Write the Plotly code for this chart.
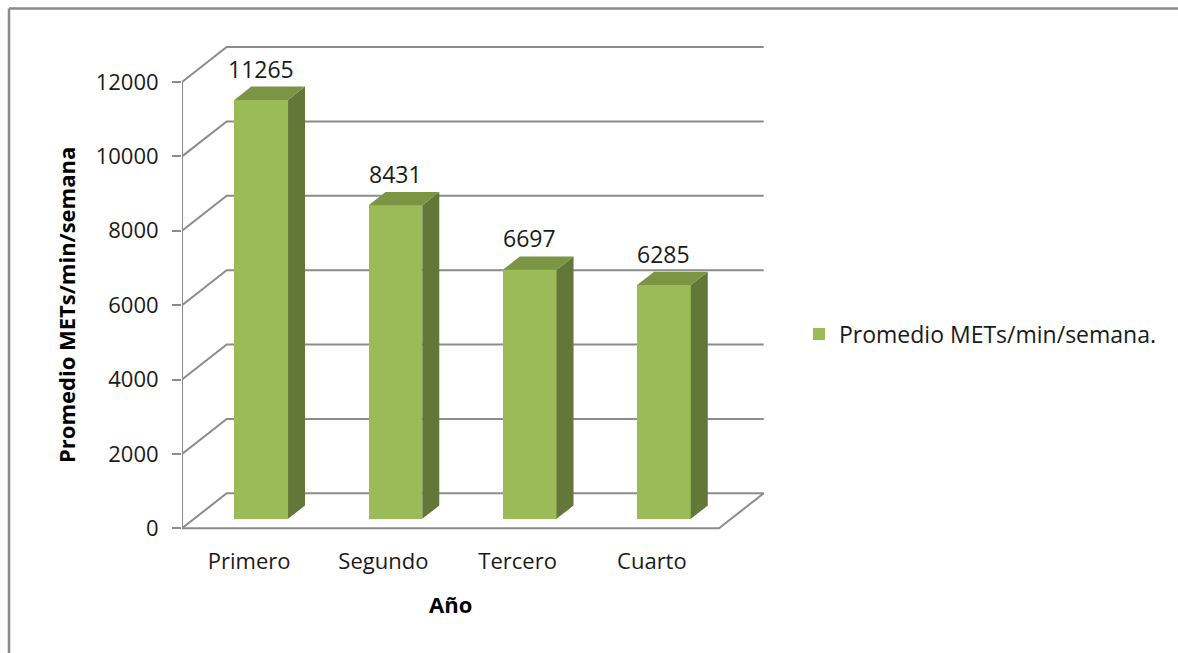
import plotly.graph_objects as go

# ---- data ----
categories = ["Primero", "Segundo", "Tercero", "Cuarto"]
values = [11265, 8431, 6697, 6285]
y_ticks = [0, 2000, 4000, 6000, 8000, 10000, 12000]
series_name = "Promedio METs/min/semana."
y_title = "Promedio METs/min/semana"
x_title = "Año"

# ---- figure geometry (pixels) ----
FIG_W, FIG_H = 1178, 653
L, T = 182, 36
PLOT_W, PLOT_H = 600, 502
CAT_PX = 134.25              # pixels per category on the front plane
ZERO_PX = 528.3              # vertical pixel of value 0 on the front plane
PX_PER_UNIT = 446.3 / 12000  # vertical pixels per value unit

x_range = [0, PLOT_W / CAT_PX]
bottom_px = T + PLOT_H
y_range = [-(bottom_px - ZERO_PX) / PX_PER_UNIT, (ZERO_PX - T) / PX_PER_UNIT]

# oblique depth of the box, in data units
DEPTH_X = 44.7 / CAT_PX
DEPTH_Y = 35.0 / PX_PER_UNIT
F0, F1 = 0.27, 0.65   # front / back depth fraction of the bars
BAR_W = 0.4

GRID = "#8c8c8c"
FRONT = "#9bbb59"
SIDE = "#637838"
TOP = "#7b9544"
FONT = "Open Sans"
TEXT = "#1a1a1a"

n = len(categories)


def px_to_paper_x(p):
    return (p - L) / PLOT_W


def px_to_paper_y(q):
    return (bottom_px - q) / PLOT_H


shapes = []
line_style = dict(color=GRID, width=2)

# back-wall gridlines with their diagonal on the left wall
for v in y_ticks:
    shapes.append(dict(type="path", xref="x", yref="y", layer="below",
                       path=f"M0,{v} L{DEPTH_X},{v + DEPTH_Y} L{n + DEPTH_X},{v + DEPTH_Y}",
                       line=line_style))
# floor: front edge and right diagonal
shapes.append(dict(type="path", xref="x", yref="y", layer="below",
                   path=f"M0,0 L{n},0 L{n + DEPTH_X},{DEPTH_Y}", line=line_style))
# front value axis line
shapes.append(dict(type="line", xref="x", yref="y", layer="below",
                   x0=0, x1=0, y0=0, y1=max(y_ticks), line=line_style))

# outer chart border (top and left edges)
bx = px_to_paper_x(9)
by_top = px_to_paper_y(8.5)
shapes.append(dict(type="line", xref="paper", yref="paper",
                   x0=bx, x1=px_to_paper_x(FIG_W + 2), y0=by_top, y1=by_top,
                   line=dict(color="#8a8a8a", width=2.5)))
shapes.append(dict(type="line", xref="paper", yref="paper",
                   x0=bx, x1=bx, y0=by_top, y1=px_to_paper_y(FIG_H + 2),
                   line=dict(color="#8a8a8a", width=2.5)))

fig = go.Figure()

# front faces of the bars
base = F0 * DEPTH_Y
front_x = [i + 0.5 + F0 * DEPTH_X for i in range(n)]
fig.add_trace(go.Bar(
    x=front_x, y=values, base=base, width=BAR_W,
    marker=dict(color=FRONT, line=dict(width=0)),
    name=series_name, showlegend=True, hoverinfo="skip",
))

# side and top faces
ddx = (F1 - F0) * DEPTH_X
ddy = (F1 - F0) * DEPTH_Y
side_x, side_y, top_x, top_y = [], [], [], []
for i, v in enumerate(values):
    xl = front_x[i] - BAR_W / 2
    xr = front_x[i] + BAR_W / 2
    yt = v + base
    side_x += [xr, xr + ddx, xr + ddx, xr, xr, None]
    side_y += [base, base + ddy, yt + ddy, yt, base, None]
    top_x += [xl, xr, xr + ddx, xl + ddx, xl, None]
    top_y += [yt, yt, yt + ddy, yt + ddy, yt, None]

fig.add_trace(go.Scatter(x=side_x, y=side_y, mode="lines", fill="toself",
                         fillcolor=SIDE, line=dict(width=0, color=SIDE),
                         showlegend=False, hoverinfo="skip"))
fig.add_trace(go.Scatter(x=top_x, y=top_y, mode="lines", fill="toself",
                         fillcolor=TOP, line=dict(width=0, color=TOP),
                         showlegend=False, hoverinfo="skip"))

annotations = []
# value labels above each bar
for i, v in enumerate(values):
    annotations.append(dict(x=front_x[i], y=v + F1 * DEPTH_Y, xref="x", yref="y",
                            text=str(v), showarrow=False, xanchor="center", yanchor="bottom",
                            font=dict(family=FONT, size=23, color=TEXT)))
# axis titles
annotations.append(dict(x=px_to_paper_x(66), y=px_to_paper_y(305), xref="paper", yref="paper",
                        text=f"<b>{y_title}</b>", textangle=-90, showarrow=False,
                        xanchor="center", yanchor="middle",
                        font=dict(family=FONT, size=22, color="#000000")))
annotations.append(dict(x=px_to_paper_x(450), y=px_to_paper_y(604), xref="paper", yref="paper",
                        text=f"<b>{x_title}</b>", showarrow=False,
                        xanchor="center", yanchor="middle",
                        font=dict(family=FONT, size=22, color="#000000")))

fig.update_layout(
    width=FIG_W, height=FIG_H,
    margin=dict(l=L, t=T, r=FIG_W - L - PLOT_W, b=FIG_H - T - PLOT_H, pad=0),
    paper_bgcolor="white", plot_bgcolor="white",
    font=dict(family=FONT, size=23, color=TEXT),
    shapes=shapes, annotations=annotations,
    legend=dict(x=px_to_paper_x(799), y=px_to_paper_y(334), xanchor="left", yanchor="middle",
                font=dict(family=FONT, size=23, color=TEXT),
                bgcolor="rgba(0,0,0,0)", itemwidth=30),
    xaxis=dict(range=x_range, tickvals=[i + 0.5 for i in range(n)], ticktext=categories,
               showgrid=False, zeroline=False, showline=False, ticks="",
               ticklabelstandoff=8, tickfont=dict(family=FONT, size=22, color=TEXT)),
    yaxis=dict(range=y_range, tickvals=y_ticks, ticktext=[str(t) for t in y_ticks],
               showgrid=False, zeroline=False, showline=False,
               ticks="outside", ticklen=9, tickwidth=2, tickcolor=GRID,
               ticklabelstandoff=9, tickfont=dict(family=FONT, size=22, color=TEXT)),
    bargap=0,
)

fig.write_html("out.html")
